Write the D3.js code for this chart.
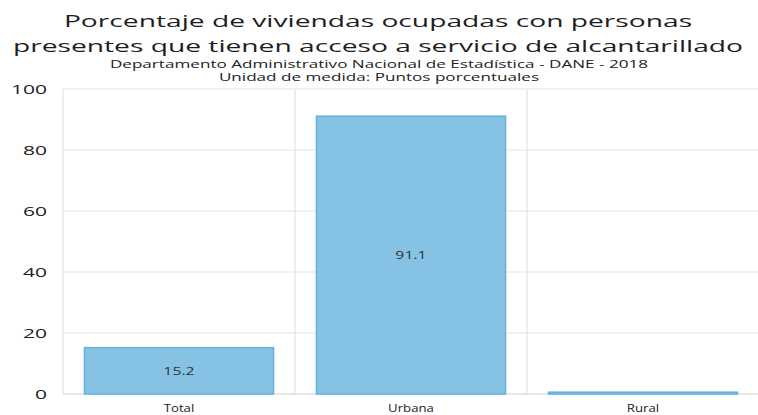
<!DOCTYPE html>
<html>
<head>
<meta charset="utf-8">
<script src="https://cdn.jsdelivr.net/npm/d3@7"></script>
<style>
  html, body { margin: 0; padding: 0; background: #fff; }
  svg { display: block; font-family: "Open Sans", "Noto Sans", sans-serif; }
</style>
</head>
<body>
<svg id="chart" width="758" height="415"></svg>
<script>
// Coverage of sewerage service (percentage points)
const categories = ["Total", "Urbana", "Rural"];
const values = [15.2, 91.1, 0.6];
const valueLabels = ["15.2", "91.1", ""];
const yTicks = [0, 20, 40, 60, 80, 100];
const titleLines = [
  "Porcentaje de viviendas ocupadas con personas",
  "presentes que tienen acceso a servicio de alcantarillado"
];
const subtitleLines = [
  "Departamento Administrativo Nacional de Estadística - DANE - 2018",
  "Unidad de medida: Puntos porcentuales"
];

const svg = d3.select("#chart");
const W = 758;
const margin = { top: 89, right: -1, bottom: 21, left: 63 };
const plotW = W - margin.left - margin.right;
const plotH = 415 - margin.top - margin.bottom;
const FONT = "\"Open Sans\", \"Noto Sans\", sans-serif";

// Widen text horizontally around its anchor point (the layout uses a wide lettering)
function stretch(sel, sx) {
  sel.each(function () {
    const t = d3.select(this);
    const x0 = +t.attr("x") || 0;
    t.attr("transform", `translate(${x0 * (1 - sx)},0) scale(${sx},1)`);
  });
}

// Titles
svg.selectAll("text.title")
  .data(titleLines)
  .join("text")
  .attr("class", "title")
  .attr("x", 378)
  .attr("y", (d, i) => 27 + i * 25)
  .attr("text-anchor", "middle")
  .attr("font-size", 16.3)
  .attr("fill", "#1e1e1e")
  .text(d => d)
  .call(stretch, 1.73);

svg.selectAll("text.subtitle")
  .data(subtitleLines)
  .join("text")
  .attr("class", "subtitle")
  .attr("x", 379)
  .attr("y", (d, i) => 68 + i * 13.5)
  .attr("text-anchor", "middle")
  .attr("font-size", 10.5)
  .attr("fill", "#222")
  .text(d => d)
  .call(stretch, 1.63);

const g = svg.append("g").attr("transform", `translate(${margin.left},${margin.top})`);

const x = d3.scaleBand().domain(categories).range([0, plotW]).paddingInner(0).paddingOuter(0);
const y = d3.scaleLinear().domain([0, 100]).range([plotH, 0]);

// Horizontal gridlines
g.append("g")
  .selectAll("line")
  .data(yTicks)
  .join("line")
  .attr("x1", 0).attr("x2", plotW)
  .attr("y1", d => y(d)).attr("y2", d => y(d))
  .attr("stroke", d => d === 0 ? "#cfcfcf" : "#e3e3e3")
  .attr("stroke-width", 1);

// Vertical category separators
g.append("g")
  .selectAll("line")
  .data(categories)
  .join("line")
  .attr("x1", d => x(d)).attr("x2", d => x(d))
  .attr("y1", 0).attr("y2", plotH)
  .attr("stroke", "#dedede")
  .attr("stroke-width", 1);

// Y axis labels
const yAxis = d3.axisLeft(y).tickValues(yTicks).tickSize(0).tickPadding(16);
g.append("g")
  .call(yAxis)
  .call(s => s.select(".domain").remove())
  .selectAll("text")
  .attr("font-size", 12.5)
  .attr("font-family", FONT)
  .attr("fill", "#222")
  .call(stretch, 1.68);

// X axis labels
const xAxis = d3.axisBottom(x).tickSize(0).tickPadding(10);
g.append("g")
  .attr("transform", `translate(0,${plotH})`)
  .call(xAxis)
  .call(s => s.select(".domain").remove())
  .selectAll("text")
  .attr("font-size", 11)
  .attr("font-family", FONT)
  .attr("fill", "#222")
  .call(stretch, 1.2);

// Bars
const barW = x.bandwidth() * 0.815;
const data = categories.map((c, i) => ({ c, v: values[i], label: valueLabels[i] }));
g.append("g")
  .selectAll("rect")
  .data(data)
  .join("rect")
  .attr("x", d => x(d.c) + (x.bandwidth() - barW) / 2)
  .attr("y", d => y(d.v))
  .attr("width", barW)
  .attr("height", d => y(0) - y(d.v))
  .attr("fill", "#85c2e3")
  .attr("stroke", "#62b2dc")
  .attr("stroke-width", 1.5);

// Value labels inside bars
g.append("g")
  .selectAll("text")
  .data(data.filter(d => d.label))
  .join("text")
  .attr("x", d => x(d.c) + x.bandwidth() / 2)
  .attr("y", d => (y(d.v) + y(0)) / 2 + 3.8)
  .attr("text-anchor", "middle")
  .attr("font-size", 10)
  .attr("fill", "#333")
  .text(d => d.label)
  .call(stretch, 1.58);
</script>
</body>
</html>
